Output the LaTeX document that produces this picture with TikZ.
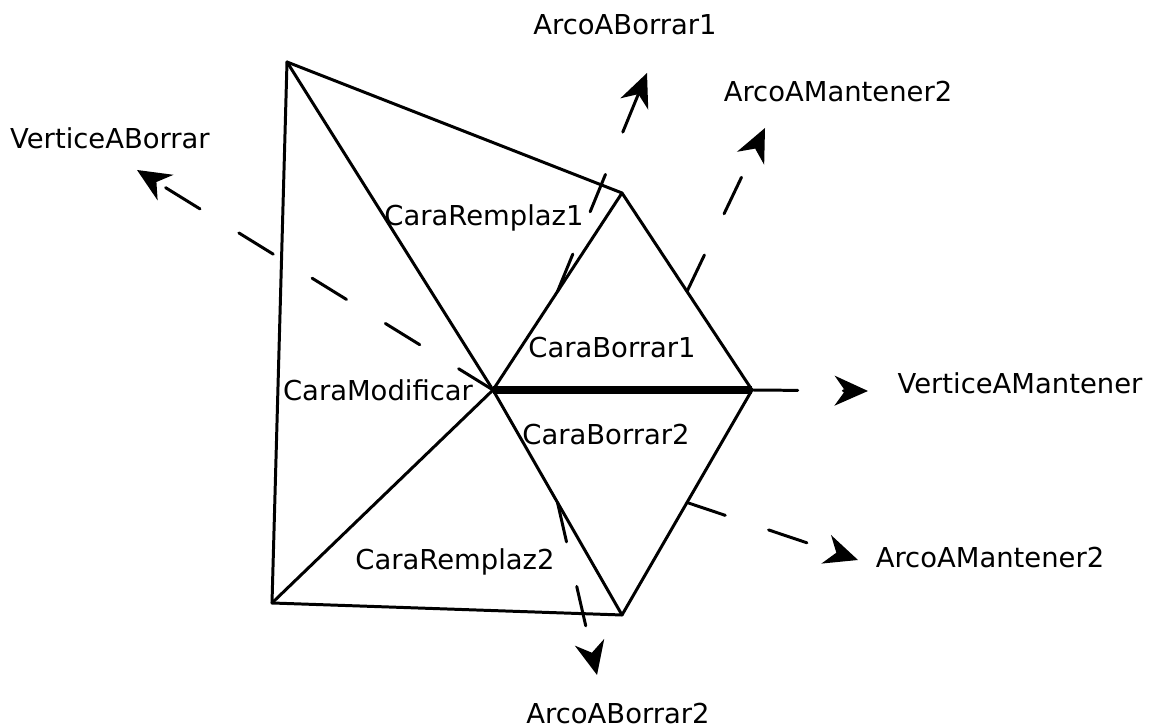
\documentclass[tikz,border=0pt]{standalone}
\usepackage{fontspec}
\setmainfont{DejaVu Sans}
\usetikzlibrary{arrows.meta, calc}

\begin{document}
\begin{tikzpicture}[line join=round, line cap=round,
    edge/.style={line width=0.85pt},
    ptr/.style={line width=0.85pt, dash pattern=on 11.5pt off 13pt, -{Stealth[length=9.5pt, width=8.5pt, inset=3pt]}},
    lbl/.style={inner sep=0pt, font=\fontsize{7.8}{9}\selectfont}]
      \useasboundingbox (0,0) rectangle (11.55,7.28);
      \coordinate (A) at (2.87,6.66);
      \coordinate (B) at (6.22,5.35);
      \coordinate (C) at (4.93,3.38);
      \coordinate (D) at (7.52,3.38);
      \coordinate (E) at (6.22,1.13);
      \coordinate (F) at (2.72,1.25);
      \coordinate (pVB) at (1.37,5.58);
      \coordinate (pAB1) at (6.47,6.55);
      \coordinate (pAM1) at (7.65,6.00);
      \coordinate (pVM) at (8.68,3.37);
      \coordinate (pAM2) at (8.58,1.68);
      \coordinate (pAB2) at (5.97,0.53);
      \draw[edge] (A) -- (B);
      \draw[edge] (A) -- (C);
      \draw[edge] (A) -- (F);
      \draw[edge] (B) -- (C);
      \draw[edge] (B) -- (D);
      \draw[edge] (C) -- (E);
      \draw[edge] (D) -- (E);
      \draw[edge] (C) -- (F);
      \draw[edge] (F) -- (E);
      \draw[line width=2.1pt, line cap=butt] (C) -- (D);
      \draw[ptr] (C) -- (pVB);
      \draw[ptr] ($(B)!0.5!(C)$) -- (pAB1);
      \draw[ptr] ($(B)!0.5!(D)$) -- (pAM1);
      \draw[ptr, dash pattern=on 13pt off 13pt] (D) -- (pVM);
      \draw[ptr] ($(D)!0.5!(E)$) -- (pAM2);
      \draw[ptr] ($(C)!0.5!(E)$) -- (pAB2);
      \node[lbl] (tAB1) at (6.25,7.03) {ArcoABorrar1};
      \node[lbl] (tAM1) at (8.38,6.36) {ArcoAMantener2};
      \node[lbl] (tVB) at (1.10,5.90) {VerticeABorrar};
      \node[lbl] (tCR1) at (4.84,5.10) {CaraRemplaz1};
      \node[lbl] (tCB1) at (6.12,3.80) {CaraBorrar1};
      \node[lbl] (tCM) at (3.78,3.38) {CaraModificar};
      \node[lbl] (tVM) at (10.20,3.45) {VerticeAMantener};
      \node[lbl] (tCB2) at (6.06,2.93) {CaraBorrar2};
      \node[lbl] (tCR2) at (4.55,1.66) {CaraRemplaz2};
      \node[lbl] (tAM2) at (9.90,1.70) {ArcoAMantener2};
      \node[lbl] (tAB2) at (6.18,0.14) {ArcoABorrar2};
    \end{tikzpicture}
\end{document}
